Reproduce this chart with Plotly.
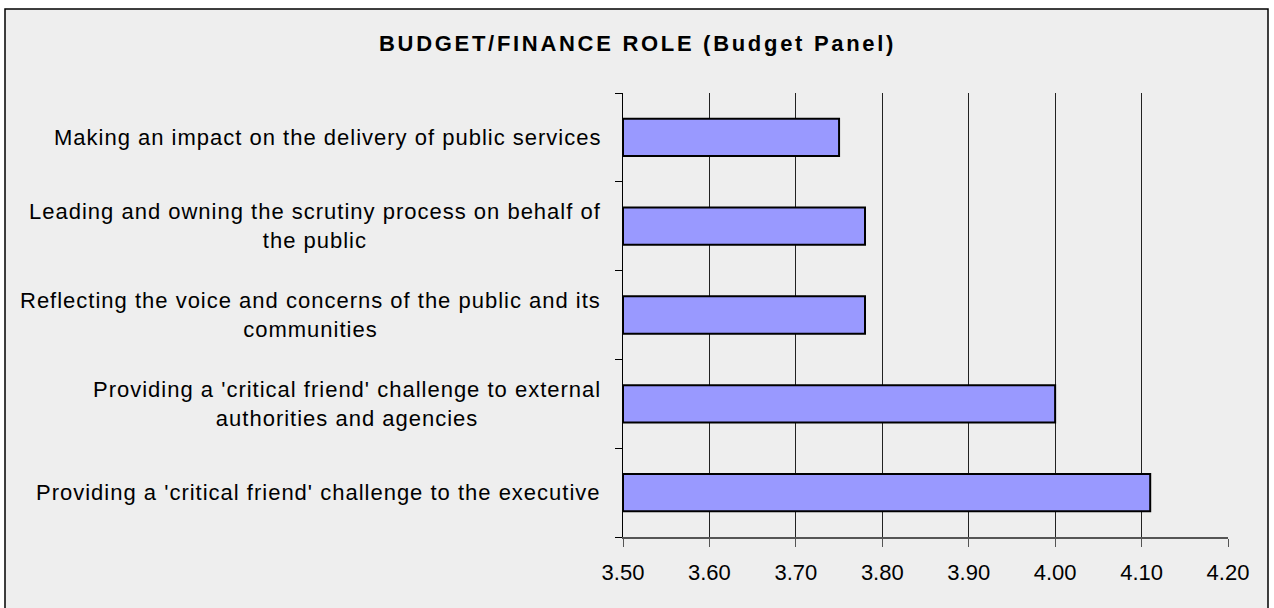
import plotly.graph_objects as go

categories = [
    "Providing a 'critical friend' challenge to the executive",
    "Providing a 'critical friend' challenge to external<br>authorities and agencies",
    "Reflecting the voice and concerns of the public and its<br>communities",
    "Leading and owning the scrutiny process on behalf of<br>the public",
    "Making an impact on the delivery of public services",
]
values = [4.11, 4.00, 3.78, 3.78, 3.75]
axis_min = 3.5
axis_max = 4.2
tick_vals = [3.5, 3.6, 3.7, 3.8, 3.9, 4.0, 4.1, 4.2]
tick_text = ["3.50", "3.60", "3.70", "3.80", "3.90", "4.00", "4.10", "4.20"]
title_text = "BUDGET/FINANCE ROLE (Budget Panel)"

FONT = "Liberation Sans"
BG = "#EEEEEE"
W, H = 1274, 608
L, R, T, B = 623, 46, 93, 71
PW, PH = W - L - R, H - T - B


def spaced(text, px):
    return "<br>".join(
        '<span style="letter-spacing:%spx">%s</span>' % (px, part)
        for part in text.split("<br>")
    )


fig = go.Figure(go.Bar(
    x=[v - axis_min for v in values], y=categories, orientation="h",
    base=axis_min,
    marker=dict(color="#9999FF", line=dict(color="#000000", width=2)),
    width=0.42,
    hoverinfo="skip",
))

annotations = []
for c in categories:
    annotations.append(dict(
        x=0, xref="paper", y=c, yref="y", text=spaced(c, 1), showarrow=False,
        xanchor="right", yanchor="middle", xshift=-20, align="center",
        font=dict(family=FONT, size=22, color="#000000"),
    ))
annotations.append(dict(
    x=(637 - L) / PW, xref="paper", xanchor="center",
    y=(H - B - 44) / PH, yref="paper", yanchor="middle",
    text="<b>" + spaced(title_text, 2.7) + "</b>", showarrow=False,
    font=dict(family=FONT, size=22, color="#000000"),
))

fig.update_layout(
    width=W, height=H,
    paper_bgcolor="#FFFFFF", plot_bgcolor="rgba(0,0,0,0)",
    margin=dict(l=L, r=R, t=T, b=B, pad=0),
    showlegend=False,
    annotations=annotations,
    font=dict(family=FONT, size=22, color="#000000"),
)
fig.update_xaxes(
    range=[axis_min, axis_max], tickvals=tick_vals, ticktext=tick_text,
    showgrid=True, gridcolor="#222222", gridwidth=1,
    showline=True, linecolor="#555555", linewidth=1.5,
    ticks="outside", ticklen=8, tickcolor="#555555",
    ticklabelstandoff=7,
    tickfont=dict(family=FONT, size=22, color="#000000"), zeroline=False,
    fixedrange=True,
)
fig.update_yaxes(
    type="category", categoryorder="array", categoryarray=categories,
    showticklabels=False, tickson="boundaries",
    ticks="outside", ticklen=7, tickcolor="#000000",
    showline=True, linecolor="#000000", linewidth=1,
    showgrid=False, range=[-0.5, 4.5], fixedrange=True,
)
fig.add_shape(type="rect", xref="paper", yref="paper",
              x0=(5 - L) / PW, x1=(1268 - L) / PW,
              y0=-0.3, y1=(H - B - 9) / PH,
              line=dict(color="#000000", width=1.5), fillcolor=BG, layer="below")

fig.write_html("out.html", config={"displayModeBar": False},
               post_script="document.body.style.margin='0px';")
